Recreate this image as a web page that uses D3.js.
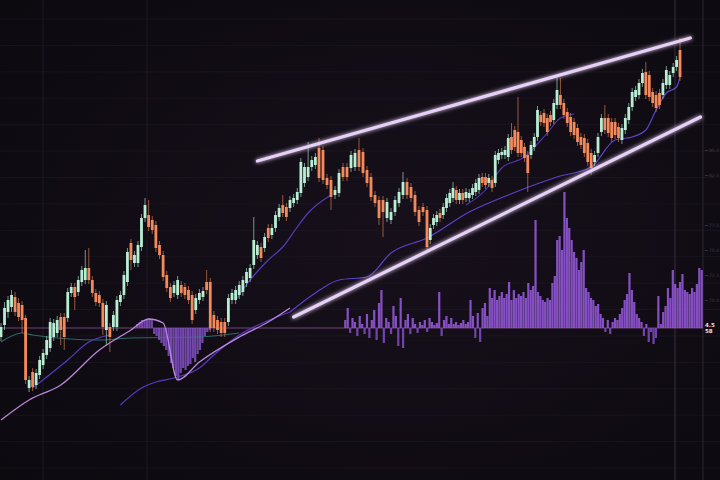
<!DOCTYPE html>
<html><head><meta charset="utf-8">
<script src="https://cdn.jsdelivr.net/npm/d3@7"></script>
<style>html,body{margin:0;padding:0;background:#120d15;}svg{display:block;}</style>
</head><body>
<svg id="chart" width="720" height="480"></svg>
<script>
// ---------- DATA ----------
const open = [66.3,67.5,68.8,69.3,70.3,69.7,69.5,68.2,61.2,62.8,
61.5,62.5,63.5,64.5,65.2,66.3,66.7,68.3,68.3,68.2,
70.7,71.3,70.8,71.8,72.0,73.2,72.0,70.7,70.5,69.7,
67.0,67.3,67.3,67.3,69.8,70.5,71.8,75.7,73.7,73.7,
75.3,78.2,78.5,78.0,77.5,75.5,74.5,72.5,71.3,70.7,
70.5,71.5,71.3,71.0,70.5,69.0,70.0,70.3,71.8,71.8,
68.5,68.0,67.8,67.8,67.8,70.0,70.0,70.5,70.8,71.7,
72.2,73.5,74.5,75.3,75.2,77.2,76.5,77.2,78.3,79.5,
79.3,79.2,79.7,80.0,80.7,81.7,82.3,83.3,83.5,85.2,
85.0,82.2,82.0,80.5,80.7,83.3,83.3,83.2,83.3,85.0,
84.8,83.0,82.3,80.5,80.0,80.0,78.2,78.0,78.8,79.7,
80.5,81.8,81.3,80.5,79.0,79.3,79.0,76.0,77.5,77.8,
78.7,78.5,79.2,79.7,80.2,81.0,80.0,80.7,80.2,80.2,
80.5,80.8,81.0,82.3,82.3,81.7,82.0,81.7,84.0,84.5,
84.5,84.3,86.3,87.0,86.8,86.0,85.3,84.5,84.5,85.3,
86.3,88.5,88.7,88.2,88.5,88.0,89.5,90.5,89.7,88.8,
88.3,87.8,87.2,86.3,86.2,85.7,84.7,83.8,84.7,86.8,
88.2,88.2,87.8,87.8,87.3,86.0,87.0,88.0,89.3,90.3,
90.5,91.7,92.8,92.5,90.8,90.5,90.7,90.5,91.5,91.5,
92.7,93.3,95.0];
const close = [67.3,69.2,70.0,70.5,68.8,68.3,68.0,62.0,62.0,61.3,
62.7,64.0,64.7,66.0,67.8,67.7,68.0,67.0,66.3,70.8,
71.3,70.3,72.0,73.0,73.2,72.0,70.7,69.8,69.7,67.3,
69.5,66.3,68.5,70.0,70.5,72.5,74.8,74.0,74.5,75.5,
78.2,79.5,77.3,77.0,75.2,74.5,72.3,71.2,70.2,71.5,
72.0,70.7,70.5,70.0,68.0,70.2,70.7,70.9,71.0,67.2,
67.2,67.0,66.7,66.7,70.2,70.7,71.0,71.5,72.0,72.8,
73.2,76.0,75.5,74.2,76.3,76.2,77.2,78.5,79.2,78.7,
78.3,80.0,80.2,80.8,83.8,83.3,83.3,84.0,84.3,82.2,
82.0,81.5,80.3,81.0,82.7,82.3,82.3,84.5,84.7,83.3,
82.7,81.7,80.3,79.7,78.2,78.8,79.8,78.8,80.0,80.8,
81.8,80.5,80.2,78.8,77.8,78.8,75.3,77.2,78.2,78.5,
78.2,79.3,80.2,80.7,81.2,80.0,80.7,80.0,80.8,80.7,
81.2,81.7,82.2,81.7,81.5,82.2,81.2,84.5,84.7,84.8,
85.0,86.2,85.0,85.3,84.7,84.7,84.2,82.7,85.5,86.3,
89.0,87.8,87.7,86.8,87.8,89.7,91.0,89.5,88.5,87.7,
86.8,86.5,85.8,85.5,84.7,83.8,83.2,84.5,86.3,88.2,
87.0,86.7,86.2,86.5,86.2,87.2,88.2,89.3,90.8,91.0,
91.7,92.7,90.5,90.3,89.7,89.2,89.5,91.7,93.0,92.5,
93.3,94.0,92.3];
const high = [67.7,69.8,70.4,71.0,70.8,70.2,69.9,68.5,62.4,63.2,
63.1,64.4,65.1,66.4,68.2,68.1,68.4,68.7,68.7,71.2,
71.7,71.7,72.4,73.4,75.0,75.2,72.4,71.1,70.9,70.1,
69.9,67.7,68.9,70.4,70.9,72.9,75.2,76.1,74.9,75.9,
78.6,80.2,80.0,78.4,77.9,75.9,74.9,72.9,71.7,71.9,
72.4,71.9,71.7,71.4,70.9,70.6,71.1,71.3,73.0,72.2,
68.9,68.4,68.2,68.2,70.6,71.1,71.4,71.9,72.4,73.2,
73.6,78.3,75.9,75.7,76.7,77.6,77.6,78.9,79.6,80.5,
79.7,80.4,80.6,81.2,84.2,83.7,85.8,84.4,84.7,86.2,
85.4,82.6,82.4,81.4,83.1,83.7,83.7,84.9,85.1,86.2,
85.2,83.4,82.7,80.9,80.4,80.4,80.2,79.2,80.4,81.2,
82.8,82.2,81.7,80.9,79.4,79.7,79.4,77.6,78.6,78.9,
79.1,79.7,80.6,81.1,81.8,81.4,81.1,81.1,81.2,81.1,
81.6,82.1,82.6,82.7,82.7,82.6,82.4,84.9,85.1,85.2,
85.4,86.6,87.7,87.4,90.3,86.4,85.7,84.9,85.9,86.7,
89.4,88.9,89.1,88.6,88.9,90.1,92.2,92.2,90.1,89.2,
88.7,88.2,87.6,86.7,86.6,86.1,85.1,84.9,86.7,88.6,
89.5,88.6,88.2,88.2,87.7,87.6,88.6,89.7,91.2,91.4,
92.1,93.1,93.8,92.9,91.2,90.9,91.1,92.1,93.4,92.9,
93.7,94.4,96.2];
const low = [65.9,67.0,68.2,68.8,68.4,67.9,66.7,61.6,60.8,60.9,
61.1,62.1,63.1,64.1,64.8,65.9,66.3,65.5,65.0,67.8,
70.3,69.0,70.4,71.4,71.6,71.6,70.3,69.4,69.3,66.5,
65.5,64.8,66.9,66.9,69.4,70.1,71.4,73.0,73.3,73.3,
74.9,77.8,76.9,76.6,74.8,74.1,71.9,70.8,69.8,70.3,
70.1,70.3,70.1,69.6,67.6,68.6,69.6,69.9,70.6,66.8,
66.8,66.6,66.3,66.3,67.4,69.6,69.6,70.1,70.4,71.3,
71.8,73.1,74.1,73.8,74.8,75.8,76.1,76.8,77.9,78.3,
77.9,78.8,79.3,79.6,80.3,81.3,81.9,82.9,83.1,81.8,
81.6,81.1,79.0,80.1,80.3,81.9,81.9,82.8,82.9,82.9,
82.3,81.3,79.9,79.3,77.5,76.3,77.8,77.6,78.4,79.3,
80.1,80.1,79.8,78.4,77.4,78.4,74.9,75.6,77.1,77.4,
77.8,78.1,78.8,79.3,79.8,79.6,79.6,79.6,79.8,79.8,
80.1,80.4,80.6,81.3,81.1,81.3,80.8,81.3,83.6,84.1,
84.1,83.9,84.6,84.9,84.3,84.3,83.8,80.8,84.1,84.9,
85.9,87.4,87.3,86.4,87.4,87.6,89.1,89.1,88.1,87.3,
86.4,86.1,85.4,85.1,84.3,83.4,82.5,83.4,84.3,86.4,
86.6,86.3,85.8,86.1,85.8,85.6,86.6,87.6,88.9,89.9,
90.1,91.3,90.1,89.9,89.3,88.8,89.1,90.1,91.1,91.1,
92.3,92.9,91.9];

// moving-average style lines: [candle index, price]
const lilacIdx = [0,8,17,28,37,42,46,50,56,67,75,81];
const lilacVal = [58.0,60.0,61.5,65.0,67.0,68.1,67.7,62.0,63.8,66.3,67.8,69.2];
const blueAIdx = [9,19,25,31];
const blueAVal = [61.2,64.0,65.8,66.5];
const blueBIdx = [34,40,44,49,56,60,67,74,81];
const blueBVal = [59.5,61.2,61.8,62.2,63.2,64.5,66.5,67.8,68.8];
const blueCIdx = [66,70,75,79,83,86,92];
const blueCVal = [70.0,72.0,74.0,75.3,77.3,78.7,80.5];
const blueDIdx = [81,88,94,101,107,116,129,141,156,166,173,178,182,185,188,191,192];
const blueDVal = [68.8,70.7,72.0,72.3,74.7,76.2,78.8,80.5,82.3,83.3,86.0,86.3,87.0,89.0,90.7,91.3,92.3];
const blueEIdx = [128,134,139,146,153,157,161];
const blueEVal = [79.5,81.0,83.2,84.3,86.7,88.2,88.6];
const tealIdx = [0,6,9,28,37,56,67];
const tealVal = [65.8,66.7,66.5,66.0,66.2,66.3,66.7];

// channel trend lines
const upperIdx = [72,195], upperVal = [83.9,96.2];
const lowerIdx = [82,198], lowerVal = [68.3,88.3];

// oscillator histograms
const oscLeft = [4,6,8,8,9,9,8,-6,-8,-12,-15,-18,-22,-28,-35,-40,-48,-52,-45,-40,-42,-38,-36,-30,-34,-26,-22,-15,-8,-4,-2];
const oscRight = [8,20,-5,10,6,-8,12,4,-6,14,-10,8,18,-12,25,38,-15,10,6,-6,
22,12,-18,30,-20,8,14,-6,10,4,-5,6,3,8,-4,10,6,3,5,36,
-8,8,12,4,10,4,6,3,5,8,4,6,28,12,-10,15,-14,
20,25,12,40,30,38,28,32,36,30,34,46,28,38,30,34,32,36,30,45,
38,42,108,36,32,28,26,30,28,45,52,88,92,78,136,110,100,88,76,70,
58,66,78,40,36,30,28,22,24,14,10,-4,8,-6,6,10,8,14,20,28,
34,55,38,26,14,10,6,-8,4,-14,-4,-16,-10,32,4,16,22,40,30,58,
44,40,46,54,38,36,34,40,36,44,60,58];

const axisTicks = [85,82.5,77.5,75,72.5,70];
const lastLabel = ["4.5", "58"];

// ---------- LAYOUT ----------
const W = 720, H = 480;
const svg = d3.select("#chart");
const defs = svg.append("defs");
const bg = defs.append("radialGradient").attr("id","bg").attr("cx","55%").attr("cy","50%").attr("r","75%");
bg.append("stop").attr("offset","0%").attr("stop-color","#17101b");
bg.append("stop").attr("offset","100%").attr("stop-color","#0c090f");
const glow = defs.append("filter").attr("id","glow").attr("x","-10%").attr("y","-50%").attr("width","120%").attr("height","200%");
glow.append("feGaussianBlur").attr("stdDeviation",2.2).attr("result","b");
const gm = glow.append("feMerge");
gm.append("feMergeNode").attr("in","b");
gm.append("feMergeNode").attr("in","SourceGraphic");

svg.append("rect").attr("width",W).attr("height",H).attr("fill","url(#bg)");

// scales (piecewise time axis mimics the chart's uneven spacing)
const x = d3.scaleLinear().domain([0,41,89,116,156,192]).range([1,145,319,427,557,680]);
const y = d3.scaleLinear().domain([60,100]).range([400,0]);
const hy = d3.scaleLinear().domain([0,100]).range([328,228]);
const gridY = d3.scaleLinear().domain([0,17]).range([19,468]);

// grid
svg.append("g").selectAll("line").data(d3.range(18)).join("line")
  .attr("x1",0).attr("x2",W).attr("y1",d=>gridY(d)).attr("y2",d=>gridY(d))
  .attr("stroke","#241d29").attr("stroke-width",0.8).attr("opacity",0.6);
const vgrid = [{x:43,c:"#1f1924"},{x:147,c:"#1f1924"},{x:675,c:"#352e3c"},{x:703,c:"#2a2430"}];
svg.append("g").selectAll("line").data(vgrid).join("line")
  .attr("x1",d=>d.x).attr("x2",d=>d.x).attr("y1",0).attr("y2",H)
  .attr("stroke",d=>d.c).attr("stroke-width",1);

// right axis labels (dim)
const ax = svg.append("g").attr("transform","translate(705,0)")
  .call(d3.axisRight(y).tickValues(axisTicks).tickSize(3).tickFormat(d3.format(".1f")));
ax.select(".domain").remove();
ax.selectAll("line").attr("stroke","#352e3c");
ax.selectAll("text").attr("fill","#41394a").attr("font-size",4.5).attr("font-family","DejaVu Sans").attr("x",4);

// histogram baseline
svg.append("line").attr("x1",0).attr("x2",703).attr("y1",hy(0)).attr("y2",hy(0))
  .attr("stroke","#9a5aa8").attr("stroke-width",1).attr("opacity",0.7);

// left oscillator
const bl = d3.scaleBand().domain(d3.range(oscLeft.length)).range([136,211]).padding(0.1);
svg.append("g").selectAll("rect").data(oscLeft).join("rect")
  .attr("x",(d,i)=>bl(i)).attr("width",bl.bandwidth())
  .attr("y",d=>hy(Math.max(0,d))).attr("height",d=>Math.abs(hy(d)-hy(0)))
  .attr("fill","#8553c8").attr("opacity",0.85);

// right oscillator / volume
const br = d3.scaleBand().domain(d3.range(oscRight.length)).range([344,703]).padding(0.08);
svg.append("g").selectAll("rect").data(oscRight).join("rect")
  .attr("x",(d,i)=>br(i)).attr("width",br.bandwidth())
  .attr("y",d=>hy(Math.max(0,d))).attr("height",d=>Math.abs(hy(d)-hy(0)))
  .attr("fill",d=>d>=0?"#8f56d0":"#7a48bb").attr("opacity",0.92);

// MA lines
const mk = (idx, val) => idx.map((d,i)=>[d,val[i]]);
const line = d3.line().x(d=>x(d[0])).y(d=>y(d[1])).curve(d3.curveMonotoneX);
const maLines = [
  {d:mk(tealIdx,tealVal), c:"#2e7f80", w:1.2, o:0.8},
  {d:mk(blueAIdx,blueAVal), c:"#5a3cc8", w:1.2, o:0.95},
  {d:mk(blueBIdx,blueBVal), c:"#5a3cc8", w:1.2, o:0.95},
  {d:mk(blueCIdx,blueCVal), c:"#5a3cc8", w:1.2, o:0.95},
  {d:mk(blueDIdx,blueDVal), c:"#6244d4", w:1.2, o:0.95},
  {d:mk(blueEIdx,blueEVal), c:"#5a3cc8", w:1.1, o:0.9},
  {d:mk(lilacIdx,lilacVal), c:"#c48ee6", w:1.3, o:0.95}
];
svg.append("g").selectAll("path").data(maLines).join("path")
  .attr("d",d=>line(d.d)).attr("fill","none")
  .attr("stroke",d=>d.c).attr("stroke-width",d=>d.w).attr("opacity",d=>d.o);

// candles
const UP = "#b8eed3", DN = "#f48a5c";
const cg = svg.append("g");
const idx = d3.range(open.length);
cg.selectAll("line").data(idx).join("line")
  .attr("x1",i=>x(i)).attr("x2",i=>x(i))
  .attr("y1",i=>y(high[i])).attr("y2",i=>y(low[i]))
  .attr("stroke",i=>close[i]>=open[i]?"#9ccab4":"#c8744c").attr("stroke-width",0.9).attr("opacity",0.8);
cg.selectAll("rect").data(idx).join("rect")
  .attr("x",i=>x(i)-1.4).attr("width",2.8)
  .attr("y",i=>y(Math.max(open[i],close[i])))
  .attr("height",i=>Math.max(1,Math.abs(y(open[i])-y(close[i]))))
  .attr("fill",i=>close[i]>=open[i]?UP:DN);

// channel lines
const tl = d3.line().x(d=>x(d[0])).y(d=>y(d[1]));
svg.append("g").selectAll("path").data([mk(upperIdx,upperVal), mk(lowerIdx,lowerVal)]).join("path")
  .attr("d",tl).attr("fill","none").attr("stroke","#e6d0f6")
  .attr("stroke-width",3.2).attr("stroke-linecap","round").attr("filter","url(#glow)");

// last value label (two short rows so it fits the right edge)
const lab = svg.append("text").attr("x",705).attr("y",hy(0)-1)
  .attr("fill","#e8e0ee").attr("font-size",5.5).attr("font-weight","bold").attr("font-family","DejaVu Sans");
lab.selectAll("tspan").data(lastLabel).join("tspan")
  .attr("x",705).attr("dy",(d,i)=>i===0?0:6).text(d=>d);
</script>
</body></html>
